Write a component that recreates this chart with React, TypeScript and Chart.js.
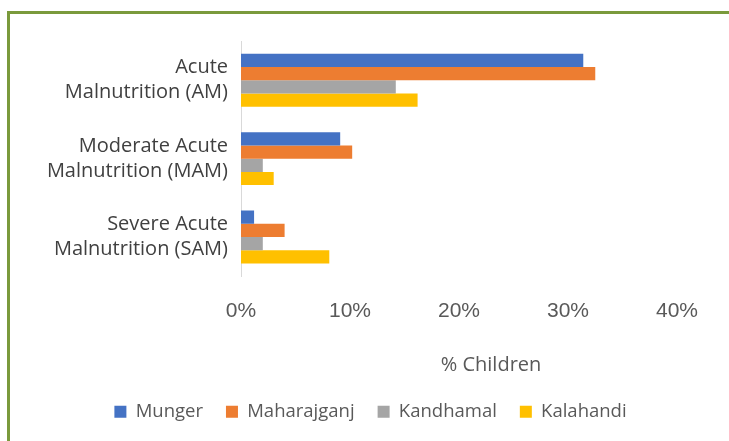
import React, { useEffect, useRef } from "react";
import { Chart, registerables } from "chart.js";

Chart.register(...registerables);

const categories: string[][] = [
  ["Acute", "Malnutrition (AM)"],
  ["Moderate Acute", "Malnutrition (MAM)"],
  ["Severe Acute", "Malnutrition (SAM)"],
];
const seriesNames = ["Munger", "Maharajganj", "Kandhamal", "Kalahandi"];
const munger = [31.4, 9.1, 1.2];
const maharajganj = [32.5, 10.2, 4.0];
const kandhamal = [14.2, 2.0, 2.0];
const kalahandi = [16.2, 3.0, 8.1];
const tickValues = [0, 10, 20, 30, 40];
const axisTitle = "% Children";

const colors = ["#4472C4", "#ED7D31", "#A5A5A5", "#FFC000"];

export default function App() {
  const ref = useRef<HTMLCanvasElement>(null);
  useEffect(() => {
    if (!ref.current) return;
    const values = [munger, maharajganj, kandhamal, kalahandi];
    const chart = new Chart(ref.current, {
      type: "bar",
      data: {
        labels: categories,
        datasets: seriesNames.map((n, i) => ({
          label: n,
          data: values[i],
          backgroundColor: colors[i],
          borderWidth: 0,
          categoryPercentage: 0.675,
          barPercentage: 1.0,
        })),
      },
      options: {
        indexAxis: "y",
        animation: false,
        responsive: false,
        maintainAspectRatio: false,
        layout: { padding: { top: 41, left: 0, right: 29, bottom: 29 } },
        plugins: {
          tooltip: { enabled: false },
          legend: {
            position: "bottom",
            labels: {
              boxWidth: 12,
              boxHeight: 12,
              padding: 23,
              color: "#595959",
              font: { family: "'Open Sans'", size: 18.5 },
            },
          },
        },
        scales: {
          y: {
            grid: { display: false, drawTicks: false },
            border: { display: true, color: "#D9D9D9", width: 1 },
            ticks: {
              padding: 13,
              color: "#404040",
              font: { family: "'Open Sans'", size: 20, lineHeight: 1.25 },
            },
            afterFit: (s: any) => {
              s.width = 241;
            },
          },
          x: {
            min: 0,
            max: 45.87,
            grid: { display: false, drawTicks: false },
            border: { display: false },
            afterBuildTicks: (s: any) => {
              s.ticks = tickValues.map((v) => ({ value: v }));
            },
            ticks: {
              includeBounds: false,
              padding: 22,
              color: "#595959",
              font: { family: "'Liberation Sans'", size: 21 },
              callback: (v: any) => v + "%",
            },
            title: {
              display: true,
              text: axisTitle,
              color: "#595959",
              font: { family: "'Open Sans'", size: 20 },
              padding: { top: 8, bottom: 2 },
            },
          },
        },
      },
    });
    return () => chart.destroy();
  }, []);
  return (
    <div
      style={{
        position: "fixed",
        left: 0,
        top: 0,
        width: 729,
        height: 441,
        overflow: "hidden",
        background: "#fff",
      }}
    >
      <canvas
        ref={ref}
        width={770}
        height={460}
        style={{ position: "absolute", left: 0, top: 0, width: 770, height: 460 }}
      />
      <div
        style={{
          position: "absolute",
          left: 7,
          top: 11,
          width: 740,
          height: 440,
          borderTop: "3px solid #7A9A3C",
          borderLeft: "3px solid #7A9A3C",
          pointerEvents: "none",
        }}
      />
    </div>
  );
}
